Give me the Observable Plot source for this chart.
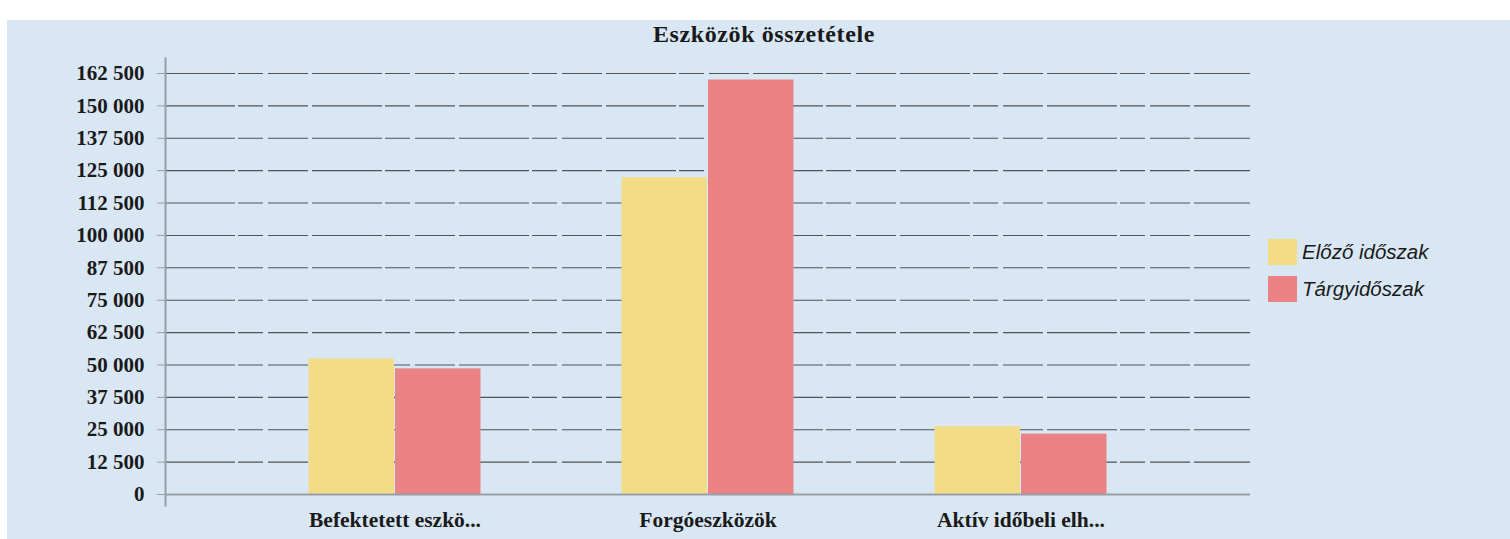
<!DOCTYPE html>
<html>
<head>
<meta charset="utf-8">
<script src="https://cdn.jsdelivr.net/npm/d3@7"></script>
<script src="https://cdn.jsdelivr.net/npm/@observablehq/plot@0.6"></script>
<style>
  html, body { margin: 0; padding: 0; background: #ffffff; }
  #wrap { position: relative; width: 1510px; height: 539px; overflow: hidden; background: #ffffff; }
  #panel { position: absolute; left: 7px; top: 20px; right: 0; bottom: 0; background: #d9e7f4; }
  #title { position: absolute; left: 0; top: 19px; width: 1528px; text-align: center;
           font-family: "Liberation Serif", "Times New Roman", serif; font-weight: bold; font-size: 24px;
           color: #1a1a1a; line-height: 30px; letter-spacing: 0.6px; }
  #chart { position: absolute; left: 0; top: 50px; }
  #legend { position: absolute; left: 1268px; top: 239px; font-family: "Liberation Sans", Arial, sans-serif;
            font-style: italic; font-size: 20.5px; color: #1a1a1a; }
  .item { display: flex; align-items: center; height: 26px; margin-bottom: 11px; }
  .sw { width: 29px; height: 26px; margin-right: 5px; }
</style>
</head>
<body>
<div id="wrap">
  <div id="panel"></div>
  <div id="title"></div>
  <div id="chart"></div>
  <div id="legend"></div>
</div>
<script>
const title = "Eszközök összetétele";
const categories = ["Befektetett eszkö...", "Forgóeszközök", "Aktív időbeli elh..."];
const series = ["Előző időszak", "Tárgyidőszak"];
const previousValues = [52300, 122300, 26200];
const currentValues = [48500, 160000, 23300];
const yTicks = [0, 12500, 25000, 37500, 50000, 62500, 75000, 87500, 100000, 112500, 125000, 137500, 150000, 162500];
const colors = ["#f2dd86", "#eb8385"];

const prevData = categories.map((c, i) => ({cat: c, series: series[0], value: previousValues[i]}));
const currData = categories.map((c, i) => ({cat: c, series: series[1], value: currentValues[i]}));

document.getElementById("title").textContent = title;

const fmt = d => d3.format(",")(d).replace(/,/g, " ");

const chart = Plot.plot({
  width: 1510,
  height: 489,
  marginLeft: 165,
  marginRight: 260,
  marginTop: 8,
  marginBottom: 34,
  style: {background: "transparent", fontFamily: "Liberation Serif, serif", color: "#1a1a1a", overflow: "visible"},
  x: {domain: categories, paddingInner: 0, paddingOuter: 0.228, label: null},
  y: {domain: [-4250, 168300], label: null},
  color: {domain: series, range: colors},
  marks: [
    Plot.ruleY(yTicks.filter(d => d > 0), {stroke: "#3a3a3a", strokeOpacity: 0.85, strokeWidth: 1.1, strokeDasharray: "70,3,25,5,40,4"}),
    Plot.barY(prevData, {x: "cat", y: "value", fill: "series", insetLeft: 70.5, insetRight: 157}),
    Plot.barY(currData, {x: "cat", y: "value", fill: "series", insetLeft: 157, insetRight: 70.5}),
    Plot.ruleY([0], {stroke: "#9a9fa6", strokeWidth: 2}),
    Plot.frame({anchor: "left", stroke: "#9a9fa6", strokeWidth: 2}),
    Plot.axisY(yTicks, {tickFormat: fmt, tickSize: 8, tickPadding: 13, stroke: "#9a9fa6",
      fontSize: 21, fontWeight: "bold", fill: "#1a1a1a", label: null}),
    Plot.axisX({tickSize: 0, tickPadding: 6, fontSize: 21.5, fontWeight: "bold", fill: "#1a1a1a", label: null})
  ]
});
document.getElementById("chart").appendChild(chart);

const legend = document.getElementById("legend");
series.forEach((s, i) => {
  const item = document.createElement("div");
  item.className = "item";
  const sw = document.createElement("div");
  sw.className = "sw";
  sw.style.background = colors[i];
  const t = document.createElement("span");
  t.textContent = s;
  item.appendChild(sw);
  item.appendChild(t);
  legend.appendChild(item);
});
</script>
</body>
</html>
